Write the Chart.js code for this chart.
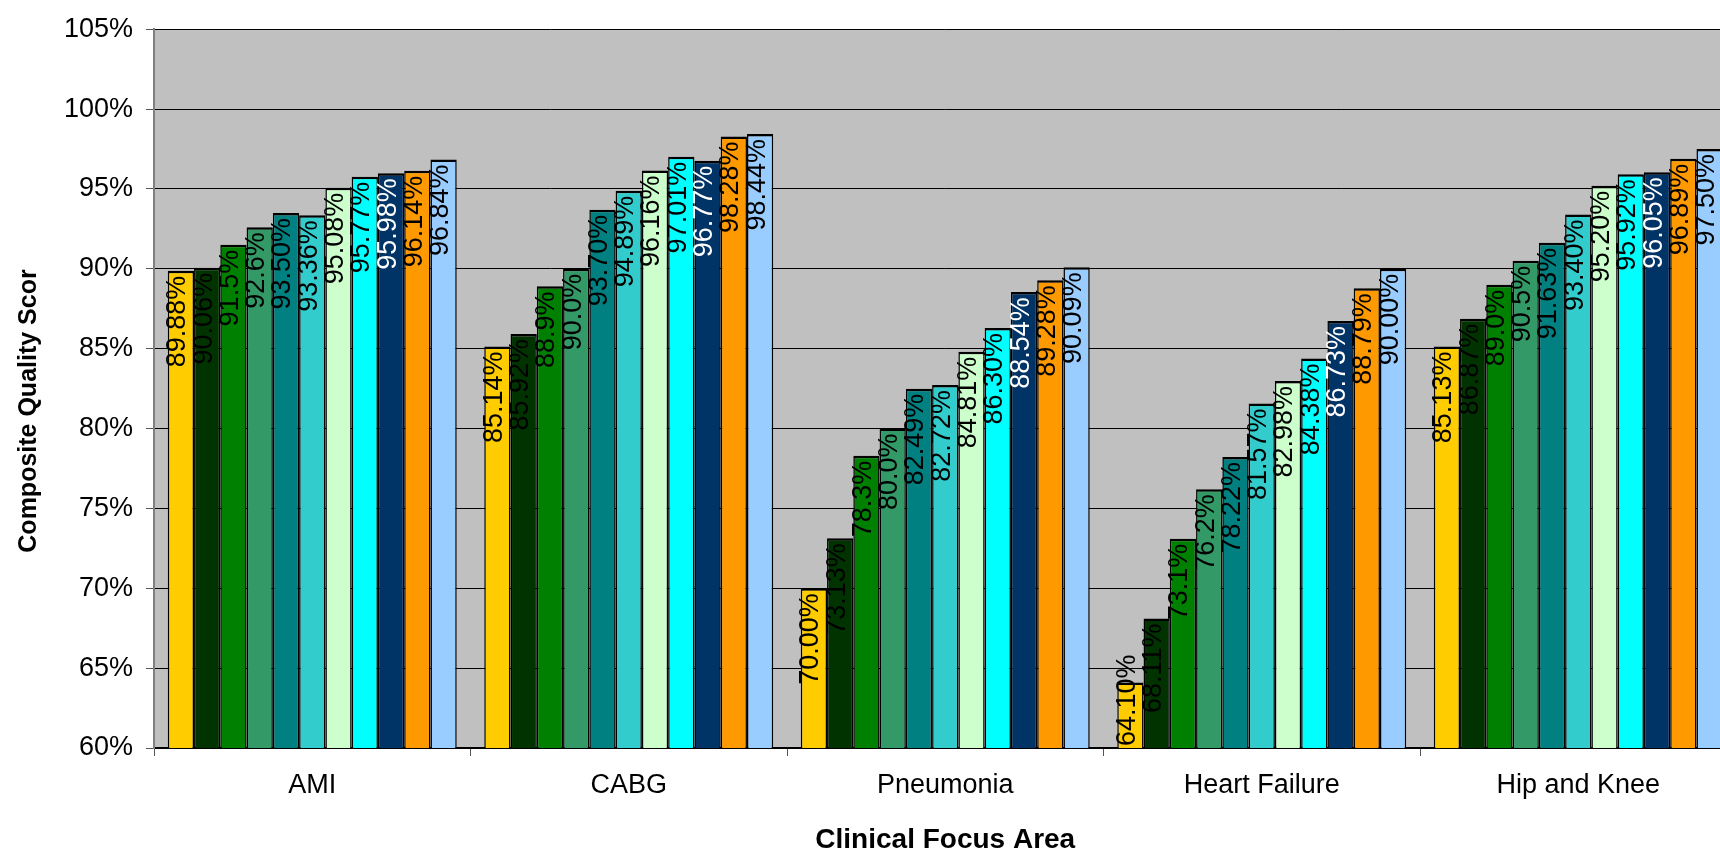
<!DOCTYPE html>
<html>
<head>
<meta charset="utf-8">
<script src="https://cdn.jsdelivr.net/npm/chart.js@4"></script>
<style>
  html, body { margin: 0; padding: 0; background: #fff; overflow: hidden; }
  #wrap { width: 1740px; height: 854px; }
</style>
</head>
<body>
<div id="wrap"><canvas id="scores" width="1740" height="854"></canvas></div>
<script>
// Kategorien (Clinical Focus Area)
const categories = ['AMI', 'CABG', 'Pneumonia', 'Heart Failure', 'Hip and Knee'];

// Werte je Serie, in Prozent
const series1 = [89.88, 85.14, 70.00, 64.10, 85.13];
const series2 = [90.06, 85.92, 73.13, 68.11, 86.87];
const series3 = [91.5, 88.9, 78.3, 73.1, 89.0];
const series4 = [92.6, 90.0, 80.0, 76.2, 90.5];
const series5 = [93.50, 93.70, 82.49, 78.22, 91.63];
const series6 = [93.36, 94.89, 82.72, 81.57, 93.40];
const series7 = [95.08, 96.16, 84.81, 82.98, 95.20];
const series8 = [95.77, 97.01, 86.30, 84.38, 95.92];
const series9 = [95.98, 96.77, 88.54, 86.73, 96.05];
const series10 = [96.14, 98.28, 89.28, 88.79, 96.89];
const series11 = [96.84, 98.44, 90.09, 90.00, 97.50];

// Nachkommastellen der Beschriftung je Serie
const labelDecimals = [2, 2, 1, 1, 2, 2, 2, 2, 2, 2, 2];

// Achse
const yMin = 60;
const yMax = 105;
const yStep = 5;

const allSeries = [series1, series2, series3, series4, series5, series6,
                   series7, series8, series9, series10, series11];
const colors = ['#FFCC00', '#003300', '#008000', '#339966', '#008080', '#33CCCC',
                '#CCFFCC', '#00FFFF', '#003366', '#FF9900', '#99CCFF'];
const labelColors = colors.map(c => c === '#003366' ? '#FFFFFF' : '#000000');

const FONT = "'Liberation Sans', Arial, sans-serif";

// grauer Hintergrund der Zeichenfläche
const plotBackground = {
  id: 'plotBackground',
  beforeDraw(chart) {
    const {ctx, chartArea: a} = chart;
    ctx.save();
    ctx.fillStyle = '#C0C0C0';
    ctx.fillRect(a.left, a.top, a.right - a.left, a.bottom - a.top);
    ctx.restore();
  }
};

// senkrechte Wertebeschriftung in den Balken
const barLabels = {
  id: 'barLabels',
  afterDatasetsDraw(chart) {
    const {ctx, chartArea: a} = chart;
    ctx.save();
    ctx.font = '27px ' + FONT;
    ctx.textAlign = 'right';
    ctx.textBaseline = 'middle';
    chart.data.datasets.forEach((ds, i) => {
      chart.getDatasetMeta(i).data.forEach((bar, j) => {
        const txt = ds.data[j].toFixed(labelDecimals[i]) + '%';
        const len = ctx.measureText(txt).width;
        let top = bar.y + 5;
        if (top + len > a.bottom - 2) top = a.bottom - 2 - len;
        ctx.save();
        ctx.translate(bar.x - 3, top);
        ctx.rotate(-Math.PI / 2);
        ctx.fillStyle = labelColors[i];
        ctx.fillText(txt, 0, 0);
        ctx.restore();
      });
    });
    ctx.restore();
  }
};

// Titel der y-Achse
const yTitle = {
  id: 'yTitle',
  afterDraw(chart) {
    const {ctx} = chart;
    ctx.save();
    ctx.font = 'bold 25px ' + FONT;
    ctx.fillStyle = '#000';
    ctx.textAlign = 'center';
    ctx.textBaseline = 'middle';
    ctx.translate(29, 411);
    ctx.rotate(-Math.PI / 2);
    ctx.fillText('Composite Quality Scor', 0, 0);
    ctx.restore();
  }
};

new Chart(document.getElementById('scores'), {
  type: 'bar',
  data: {
    labels: categories,
    datasets: allSeries.map((values, i) => ({
      label: 'Series ' + (i + 1),
      data: values,
      backgroundColor: colors[i],
      borderColor: '#000000',
      borderWidth: {top: 2.5, left: 1.5, right: 1.5, bottom: 0},
      borderSkipped: 'start',
      barPercentage: 1.0,
      categoryPercentage: 0.913
    }))
  },
  options: {
    responsive: false,
    animation: false,
    devicePixelRatio: 1,
    layout: { padding: { left: 0, right: 3.5, top: 25, bottom: 0 } },
    plugins: {
      legend: { display: false },
      tooltip: { enabled: false }
    },
    scales: {
      x: {
        afterFit: s => { s.height = 106; },
        border: { color: '#000', width: 2 },
        grid: { offset: true, drawOnChartArea: false, drawTicks: true, tickLength: 8, tickColor: '#555' },
        ticks: { color: '#000', padding: 13, font: { family: FONT, size: 27 } },
        title: {
          display: true,
          text: 'Clinical Focus Area',
          color: '#000',
          font: { family: FONT, size: 28, weight: 'bold', lineHeight: 1 },
          padding: { top: 0, bottom: 0 }
        }
      },
      y: {
        min: yMin,
        max: yMax,
        afterFit: s => { s.width = 154; },
        border: { color: '#808080', width: 2 },
        grid: { color: '#000', lineWidth: 1, tickLength: 8, tickColor: '#555' },
        ticks: {
          stepSize: yStep,
          color: '#000',
          padding: 13,
          font: { family: FONT, size: 27 },
          callback: v => v + '%'
        }
      }
    }
  },
  plugins: [plotBackground, barLabels, yTitle]
});
</script>
</body>
</html>
